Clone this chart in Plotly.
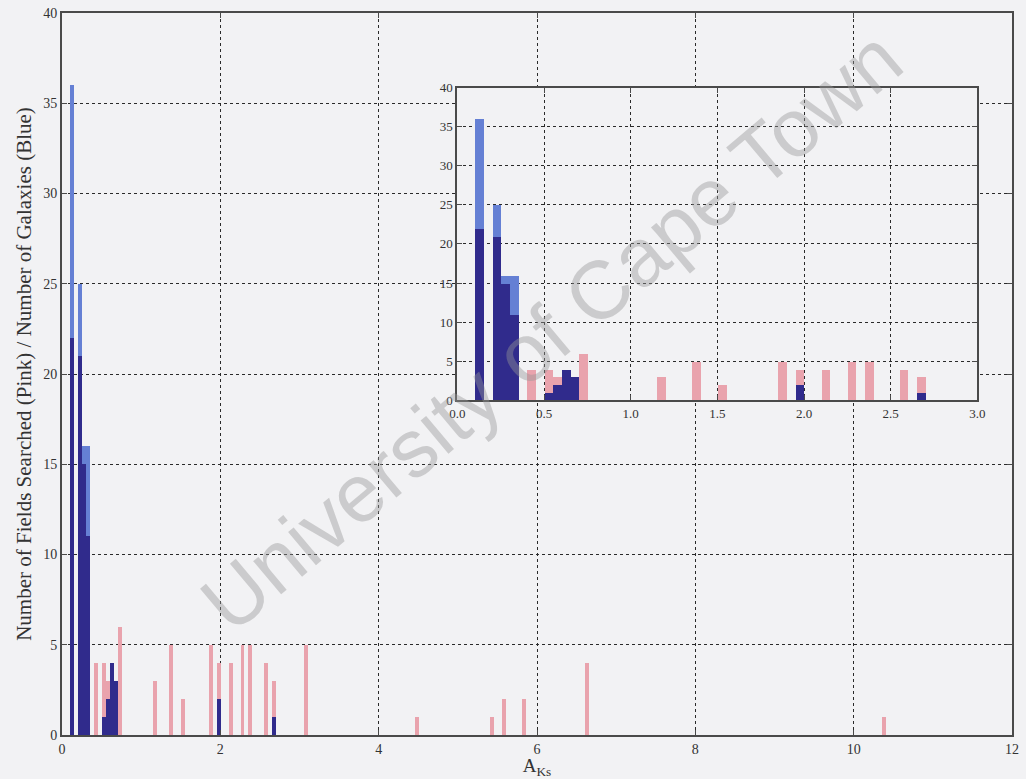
import numpy as np
import plotly.graph_objects as go

# A_Ks bin centres (bin width 0.05 mag)
a_ks = [0.13, 0.23, 0.28, 0.33, 0.43, 0.53, 0.58, 0.63, 0.68, 0.73,
        1.18, 1.38, 1.53, 1.88, 1.98, 2.13, 2.28, 2.38, 2.58, 2.68,
        3.08, 4.48, 5.43, 5.58, 5.83, 6.63, 10.38]
# Number of fields searched (pink)
fields = [22, 21, 15, 11, 4, 4, 3, 4, 3, 6,
          3, 5, 2, 5, 4, 4, 5, 5, 4, 3,
          5, 1, 1, 2, 2, 4, 1]
# Number of galaxies (blue)
galaxies = [36, 25, 16, 16, 0, 1, 2, 4, 3, 0,
            0, 0, 0, 0, 2, 0, 0, 0, 0, 1,
            0, 0, 0, 0, 0, 0, 0]
bin_width = 0.05

main_xticks = [0, 2, 4, 6, 8, 10, 12]
inset_xticks = [0.0, 0.5, 1.0, 1.5, 2.0, 2.5, 3.0]
yticks = [0, 5, 10, 15, 20, 25, 30, 35, 40]

PINK = "#e9a3ad"
BLUE = "#6580d4"
OVER = "#302b8c"
BG = "#f2f2f4"
FONT = "Liberation Serif"

overlap = np.minimum(np.array(fields), np.array(galaxies)).tolist()

fig = go.Figure()
for xa, ya in (("x", "y"), ("x2", "y2")):
    fig.add_trace(go.Bar(x=a_ks, y=fields, width=bin_width, marker_color=PINK,
                         marker_line_width=0, xaxis=xa, yaxis=ya, showlegend=False))
    fig.add_trace(go.Bar(x=a_ks, y=galaxies, width=bin_width, marker_color=BLUE,
                         marker_line_width=0, xaxis=xa, yaxis=ya, showlegend=False))
    fig.add_trace(go.Bar(x=a_ks, y=overlap, width=bin_width, marker_color=OVER,
                         marker_line_width=0, xaxis=xa, yaxis=ya, showlegend=False))


def axis_style(size):
    return dict(
        showgrid=True, griddash="dot", gridcolor="#2a2a2a", gridwidth=1,
        showline=True, linecolor="#4a4a4a", linewidth=2, mirror="allticks",
        ticks="inside", ticklen=5, tickcolor="#4a4a4a", zeroline=False,
        tickfont=dict(family=FONT, size=size, color="#333"),
    )


fig.update_layout(
    width=1026, height=779,
    margin=dict(l=62, r=6, t=8, b=44),
    paper_bgcolor=BG, plot_bgcolor=BG,
    barmode="overlay", bargap=0,
    font=dict(family=FONT, color="#333"),
    xaxis=dict(range=[0, 12], tickvals=main_xticks,
               ticktext=[str(v) for v in main_xticks],
               title=dict(text="A<sub>Ks</sub>", font=dict(family=FONT, size=19, color="#333"),
                          standoff=2),
               **axis_style(14)),
    yaxis=dict(range=[0, 40], tickvals=yticks,
               title=dict(text="Number of Fields Searched (Pink) / Number of Galaxies (Blue)",
                          font=dict(family=FONT, size=21, color="#333"), standoff=6),
               **axis_style(14)),
    xaxis2=dict(domain=[0.4162, 0.9635], anchor="y2", range=[0, 3],
                tickvals=inset_xticks, ticktext=[f"{v:.1f}" for v in inset_xticks],
                **axis_style(13)),
    yaxis2=dict(domain=[0.4635, 0.8968], anchor="x2", range=[0, 40],
                tickvals=yticks, **axis_style(13)),
)

# inset background hides the main grid behind it
fig.add_shape(type="rect", xref="x2 domain", yref="y2 domain",
              x0=0, x1=1, y0=0, y1=1, fillcolor=BG, line_width=0, layer="below")

# watermark of the scanned page
fig.add_annotation(text="University of Cape Town", xref="paper", yref="paper",
                   x=0.515, y=0.56, showarrow=False, textangle=-40,
                   font=dict(family="Liberation Sans", size=82, color="rgba(150,150,150,0.42)"))

fig.write_html("out.html")
